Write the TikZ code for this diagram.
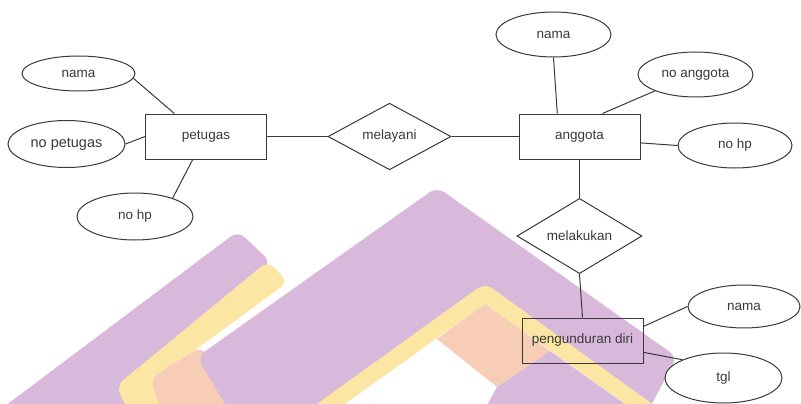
\documentclass[tikz,border=0pt]{standalone}
\usepackage{fontspec}
\setmainfont{Liberation Sans}
\usetikzlibrary{shapes.geometric}
\definecolor{wmpurple}{HTML}{D8B9DC}
\definecolor{wmyellow}{HTML}{FBE6A4}
\definecolor{wmpeach}{HTML}{F7CDB6}
\definecolor{ink}{HTML}{3A3A3A}
\begin{document}
\begin{tikzpicture}[x=1pt,y=-1pt,
  every node/.style={font=\fontsize{13.5}{16}\selectfont, text=ink},
  entity/.style={draw=ink, line width=1pt, rectangle, fill=none,
    minimum width=121pt, minimum height=45pt, inner sep=0pt},
  relation/.style={draw=ink, line width=1pt, diamond, fill=white,
    minimum width=123pt, minimum height=61pt, inner sep=0pt},
  attr/.style={draw=ink, line width=1pt, ellipse, fill=white,
    minimum width=115pt, minimum height=45pt, inner sep=0pt},
  conn/.style={draw=ink, line width=1pt},
  wm/.style={rounded corners=9pt}]

\useasboundingbox (0,0) rectangle (801,404);
\fill[white] (0,0) rectangle (801,404);

% background emblem
\begin{scope}
  \clip (0,0) rectangle (801,404);
  \fill[wmpurple, wm] (-19,424) -- (238,231) -- (271,262) -- (104,424) -- cycle;
  \fill[wmpeach, wm] (150,378) -- (202,346) -- (237,424) -- (165,424) -- cycle;
  \fill[wmyellow, wm] (268,261) -- (288,282) -- (198,348) -- (150,378)
    -- (165,424) -- (135,424) -- (116,386) -- cycle;
  \fill[wmpurple, wm] (237,424) -- (197,357) -- (437,187) -- (677,357)
    -- (641,424) -- cycle;
  \fill[wmyellow, wm] (289,424) -- (485,283) -- (680,424) -- (653,424)
    -- (485,304) -- (317,424) -- cycle;
  \fill[white] (317,424) -- (485,304) -- (653,424) -- cycle;
  \fill[wmpeach] (485,304) -- (437,339) -- (497,387) -- (550,351) -- cycle;
  \fill[wmpurple] (497,387) -- (550,351) -- (653,424) -- (477,424) -- cycle;
\end{scope}

% entities
\node[entity] (petugas) at (206,136.5) {petugas};
\node[entity] (anggota) at (579.5,136.5) {anggota};
\node[entity] (mundur) at (582.5,340.5) {pengunduran diri};

% relationships
\node[relation] (melayani) at (389.5,136.5) {melayani};
\node[relation, minimum width=125pt, minimum height=62pt] (melakukan) at (579.5,236) {melakukan};

% attributes of petugas
\node[attr, minimum width=113pt, minimum height=35pt] (pnama) at (78.5,73.5) {nama};
\node[attr, minimum width=117pt, minimum height=47pt,
  font=\fontsize{14.5}{17}\selectfont] (pnomor) at (66.5,144) {no petugas};
\node[attr, minimum width=116pt, minimum height=47pt] (php) at (135,216.5) {no hp};

% attributes of anggota
\node[attr] (anama) at (553.5,34.5) {nama};
\node[attr] (anomor) at (695.5,74.5) {no anggota};
\node[attr, minimum width=114pt] (ahp) at (735,145.5) {no hp};

% attributes of pengunduran diri
\node[attr, minimum width=112pt, minimum height=43pt] (mnama) at (744,306.5) {nama};
\node[attr, minimum width=117pt, minimum height=50pt] (mtgl) at (723.5,378) {tgl};

% connectors
\draw[conn] (pnama.-5) -- (petugas.144);
\draw[conn] (pnomor.east) -- (petugas.west);
\draw[conn] (php.26) -- (petugas.240);
\draw[conn] (petugas.east) -- (melayani.west);
\draw[conn] (melayani.east) -- (anggota.west);
\draw[conn] (anama.south) -- (anggota.134);
\draw[conn] (anomor.202) -- (anggota.45);
\draw[conn] (anggota.-6) -- (ahp.west);
\draw[conn] (anggota.south) -- (melakukan.north);
\draw[conn] (melakukan.south) -- (mundur.north);
\draw[conn] (mundur.13) -- (mnama.west);
\draw[conn] (mundur.-11) -- (mtgl.156);
\end{tikzpicture}
\end{document}
